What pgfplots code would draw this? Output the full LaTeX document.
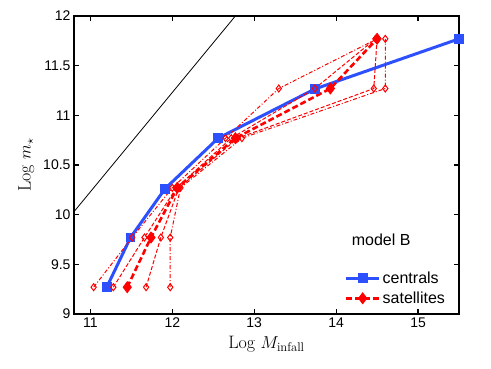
\documentclass[border=0pt]{standalone}
\usepackage{fontspec}
\usepackage{pgfplots}
\pgfplotsset{compat=1.18}
\newfontfamily\hv{Liberation Sans}
\definecolor{cblue}{RGB}{45,80,255}

\begin{document}
\begin{tikzpicture}
\begin{axis}[
  scale only axis, width=385pt, height=298pt,
  xmin=10.8, xmax=15.5, ymin=9, ymax=12,
  xtick={11,12,...,15}, ytick={9,9.5,...,12},
  tick align=inside, major tick length=5pt,
  axis line style={line width=1.4pt}, tick style={line width=1.2pt, black},
  /pgf/number format/assume math mode=true,
  tick label style={font=\fontsize{14}{16}\hv},
  yticklabel style={/pgf/number format/fixed},
  xlabel={Log $M_{\mathrm{infall}}$}, ylabel={Log $m_\star$},
  label style={font=\fontsize{18}{20}\selectfont},
  xlabel style={yshift=-2pt},
  ylabel style={yshift=2pt},
  legend cell align=left,
  legend style={draw=none, fill=none, at={(rel axis cs:0.7,0.02)}, anchor=south west,
    font=\fontsize{16}{18}\hv, row sep=3pt, inner sep=1pt},
  legend image code/.code={\draw[mark repeat=2, mark phase=2, #1] plot coordinates {(0cm,0cm) (0.58cm,0cm) (1.16cm,0cm)};},
]
\addplot[black, line width=0.8pt, forget plot] coordinates {(10.8,10.03) (12.77,12)};

\addplot[cblue, line width=3pt, mark=square*, mark size=3.4pt, mark options={solid}]
  coordinates {(11.2,9.27) (11.49,9.77) (11.91,10.26) (12.56,10.77) (13.74,11.265) (15.5,11.77)};
\addlegendentry{centrals}

\addplot[red, line width=2.6pt, dash pattern=on 6pt off 3pt, mark=diamond*, mark size=5.5pt, mark options={solid, line width=0.8pt}]
  coordinates {(11.45,9.27) (11.74,9.77) (12.06,10.27) (12.77,10.77) (13.93,11.27) (14.5,11.77)};
\addlegendentry{satellites}

\addplot[red, line width=1pt, dash pattern=on 4pt off 2pt on 1pt off 2pt, mark=diamond, mark size=3.5pt, mark options={solid}, forget plot]
  coordinates {(11.04,9.27) (11.51,9.77) (12.0,10.27) (12.65,10.77) (13.3,11.27) (14.5,11.77)};
\addplot[red, line width=1pt, dash pattern=on 4pt off 2pt, mark=diamond, mark size=3.5pt, mark options={solid}, forget plot]
  coordinates {(11.28,9.27) (11.66,9.77) (12.05,10.27) (12.72,10.77) (13.74,11.27) (14.48,11.77)};
\addplot[red, line width=1pt, dash pattern=on 4pt off 2pt, mark=diamond, mark size=3.5pt, mark options={solid}, forget plot]
  coordinates {(11.68,9.27) (11.86,9.77) (12.08,10.27) (12.8,10.77) (14.46,11.27) (14.5,11.77)};
\addplot[red, line width=1pt, dash pattern=on 4pt off 2pt on 1pt off 2pt, mark=diamond, mark size=3.5pt, mark options={solid}, forget plot]
  coordinates {(11.975,9.27) (11.975,9.77) (12.1,10.27) (12.85,10.77) (14.6,11.27) (14.6,11.77)};

\node[font=\fontsize{16}{18}\hv] at (axis cs:14.55,9.75) {model B};
\end{axis}
\pgfresetboundingbox
\path[use as bounding box] (-74pt,-55pt) rectangle (417pt,314pt);
\end{tikzpicture}
\end{document}
